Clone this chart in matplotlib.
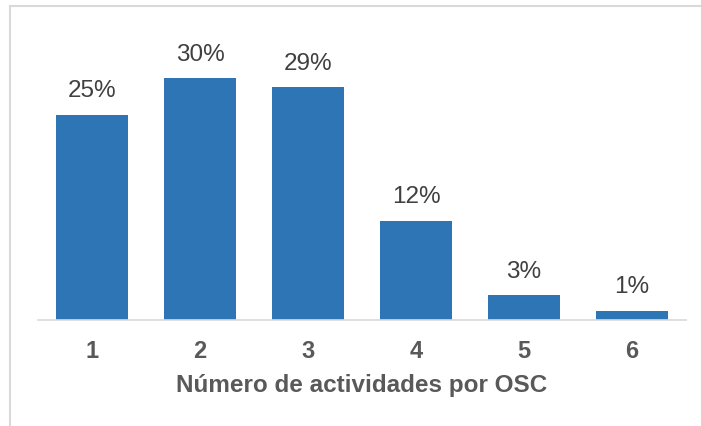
import matplotlib
matplotlib.use("Agg")
import matplotlib.pyplot as plt
from matplotlib.lines import Line2D

# data
categories = ["1", "2", "3", "4", "5", "6"]
values = [25.3, 29.8, 28.7, 12.2, 3.0, 1.1]
x_label = "Número de actividades por OSC"

plt.rcParams["font.family"] = ["Liberation Sans", "DejaVu Sans"]

fig = plt.figure(figsize=(7.01, 4.27), dpi=100)
ax = fig.add_axes([38 / 701, (427 - 320.5) / 427, 648 / 701, (320.5 - 37) / 427])

x = range(len(categories))
bars = ax.bar(x, values, width=0.667, color="#2E75B6")
ax.set_xlim(-0.5, len(categories) - 0.5)
ax.set_ylim(0, 35)

for rect, v in zip(bars, values):
    ax.annotate(f"{v:.0f}%", (rect.get_x() + rect.get_width() / 2, rect.get_height()),
                xytext=(0, 9.5), textcoords="offset points",
                ha="center", va="bottom", fontsize=17.5, color="#404040")

ax.set_xticks(list(x))
ax.set_xticklabels(categories, fontsize=17, fontweight="bold", color="#595959")
ax.tick_params(axis="x", length=0, pad=14)
ax.set_yticks([])
ax.set_xlabel(x_label, fontsize=17.5, fontweight="bold", color="#595959", labelpad=8)

for side in ["top", "right", "left"]:
    ax.spines[side].set_visible(False)
ax.spines["bottom"].set_color("#D9D9D9")
ax.spines["bottom"].set_linewidth(1.2)

# outer chart frame (only top and left edges visible)
fig.add_artist(Line2D([9.5 / 701, 9.5 / 701], [0, 1 - 6.5 / 427],
                      transform=fig.transFigure, color="#D9D9D9", lw=1.5))
fig.add_artist(Line2D([9.5 / 701, 1], [1 - 6.5 / 427, 1 - 6.5 / 427],
                      transform=fig.transFigure, color="#D9D9D9", lw=1.5))

fig.savefig("out.png", dpi=100)
